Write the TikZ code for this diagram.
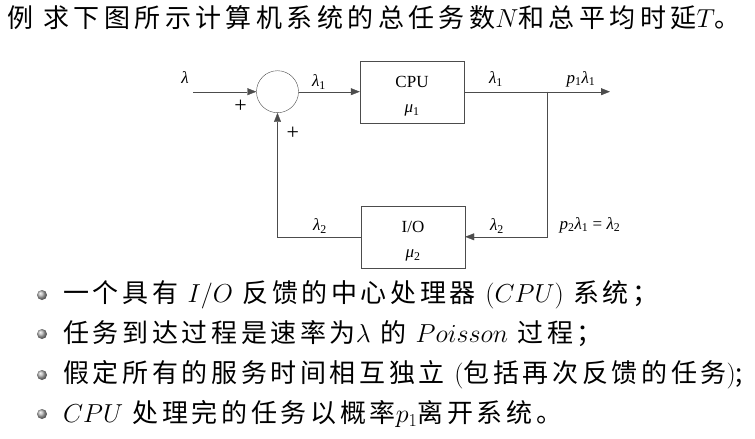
\RequirePackage{fix-cm}
\documentclass[tikz,border=0pt]{standalone}
\usepackage{amsmath}
\usepackage{fontspec}
\newfontfamily\cjktitle[LetterSpace=17]{Noto Sans CJK SC}
\newfontfamily\cjkbody[LetterSpace=14]{Noto Sans CJK SC}
\newfontfamily\tms{Liberation Serif}
\newcommand{\sym}[2]{\textit{#1}\textsubscript{#2}}
\usetikzlibrary{
	arrows.meta,
	positioning,
	calc
}
\usepackage{xcolor}

\begin{document}
\begin{tikzpicture}[x=1pt,y=-1pt,
	blk/.style={draw=black!70, minimum width=104pt, minimum height=62pt, inner sep=0pt},
	lbl/.style={inner sep=0pt, font=\tms\fontsize{17}{17}\selectfont},
	flow/.style={draw=black!70, -{Triangle[length=9pt,width=7pt]}},
	dot/.style={circle, inner sep=0pt, minimum size=10pt, shading=ball, ball color=gray!60},
	txt/.style={anchor=west, inner sep=0pt, font=\fontsize{26}{26}\selectfont\cjkbody}
	]
	\useasboundingbox (0,0) rectangle (755,439);
	
	\node[txt, font=\fontsize{26}{26}\selectfont\cjktitle] (title) at (7,18)
	{例 求下图所示计算机系统的总任务数$N$和总平均时延$T$。};
	
	% blocks
	\node[blk] (cpu) at (412,91.7) {};
	\node[blk] (io) at (413,236.8) {};
	\node[draw=black!70, circle, minimum size=42pt, inner sep=0pt] (sum) at (277.5,91.7) {};
	\node[lbl] (cpuname) at ($(cpu)+(0,-10)$) {CPU};
	\node[lbl] (mu1) at ($(cpu)+(0,19)$) {\sym{μ}{1}};
	\node[lbl] (ioname) at ($(io)+(0,-10)$) {I/O};
	\node[lbl] (mu2) at ($(io)+(0,19)$) {\sym{μ}{2}};
	
	\coordinate (in) at (193,91.7);
	\coordinate (split) at (547.5,91.7);
	\coordinate (out) at (610,91.7);
	\coordinate (back) at (547.5,236.8);
	\coordinate (up) at (277.5,236.8);
	
	\draw[flow] (in) -- (sum.west);
	\draw[flow] (sum.east) -- (cpu.west);
	\draw[flow] (cpu.east) -- (out);
	\draw[flow] (split) -- (back) -- (io.east);
	\draw[flow] (io.west) -- (up) -- (sum.south);
	
	% labels
	\node[lbl] (lam) at (185,78) {\textit{λ}};
	\node[lbl, font=\tms\fontsize{22}{22}\selectfont] (plus1) at (240.7,106.7) {+};
	\node[lbl, font=\tms\fontsize{22}{22}\selectfont] (plus2) at (292.7,133) {+};
	\node[lbl] (lam1a) at (319,82) {\sym{λ}{1}};
	\node[lbl] (lam1b) at (496,79) {\sym{λ}{1}};
	\node[lbl] (plam) at (581,79) {\sym{p}{1}\sym{λ}{1}};
	\node[lbl] (lam2a) at (320,226) {\sym{λ}{2}};
	\node[lbl] (lam2b) at (497,226) {\sym{λ}{2}};
	\node[lbl] (eq) at (590,225) {\sym{p}{2}\sym{λ}{1} = \sym{λ}{2}};
	
	% bullet list
	\node[dot] (d1) at (42,295) {};
	\node[dot] (d2) at (42,334) {};
	\node[dot] (d3) at (42,375) {};
	\node[dot] (d4) at (42,414) {};
	\node[txt] (t1) at (63,295) {一个具有 $I/O$ 反馈的中心处理器 $(CPU)$ 系统；};
	\node[txt] (t2) at (63,334) {任务到达过程是速率为$\lambda$ 的 $Poisson$ 过程；};
	\node[txt] (t3) at (63,375) {假定所有的服务时间相互独立 $($包括再次反馈的任务$)$;};
	\node[txt] (t4) at (63,414) {$CPU$ 处理完的任务以概率$p_1$离开系统。};
	
\end{tikzpicture}
\end{document}
